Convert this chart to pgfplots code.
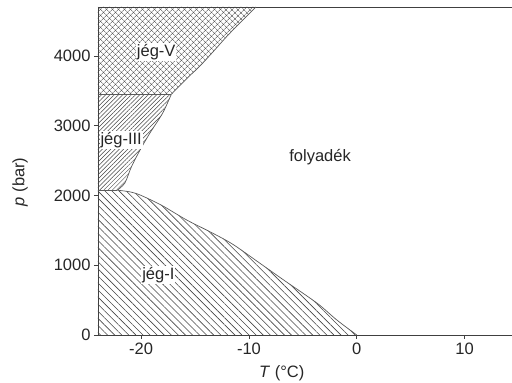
\documentclass[border=0pt]{standalone}
\usepackage{fontspec}
\setmainfont{Liberation Sans}
\usepackage{pgfplots}
\pgfplotsset{compat=1.18}
\usetikzlibrary{patterns.meta}
\newcommand\fs{\fontsize{16.5}{19}\selectfont}
\definecolor{hatch}{RGB}{70,70,70}
\definecolor{bline}{RGB}{90,90,90}
\begin{document}
\begin{tikzpicture}[font=\fs]
\begin{axis}[
  scale only axis, width=414pt, height=328pt,
  xmin=-24, xmax=14.4, ymin=0, ymax=4700,
  axis x line=box, axis y line=left,
  y axis line style={-},
  axis line style={draw=black!75, line width=0.7pt},
  tick pos=left, tick align=outside,
  major tick length=4pt,
  tick style={draw=black!75, line width=0.6pt},
  xtick={-20,-10,0,10}, ytick={0,1000,2000,3000,4000},
  /pgf/number format/1000 sep={},
  /pgf/number format/assume math mode=true,
  tick label style={font=\fs, text=black!85},
  clip=false,
]
% ice I
\addplot[draw=none, smooth, tension=0.5, pattern={Lines[angle=-45,distance=5pt,line width=0.6pt]}, pattern color=hatch]
 coordinates {(-22.2,2075) (-21,2050) (-20,2000) (-18,1850) (-15.8,1650) (-13.5,1470) (-11.5,1300) (-9,1030) (-6.8,790) (-3.7,458) (-1.85,215) (0,0)}
 -- (axis cs:-24,0) -- (axis cs:-24,2075) -- cycle;
% ice III
\addplot[draw=none, smooth, tension=0.5, pattern={Lines[angle=45,distance=3pt,line width=0.5pt]}, pattern color=hatch]
 coordinates {(-22.2,2075) (-21.5,2180) (-20.9,2410) (-20.1,2650) (-19.2,2890) (-18,3180) (-17.2,3450)}
 -- (axis cs:-24,3450) -- (axis cs:-24,2075) -- cycle;
% ice V
\addplot[draw=none, smooth, tension=0.5, pattern={Lines[angle=45,distance=4pt,line width=0.6pt]}, pattern color=hatch]
 coordinates {(-17.2,3450) (-15.6,3700) (-14.6,3845) (-13.2,4080) (-11.8,4320) (-9.35,4700)}
 -- (axis cs:-24,4700) -- (axis cs:-24,3450) -- cycle;
\addplot[draw=none, smooth, tension=0.5, pattern={Lines[angle=-45,distance=4pt,line width=0.6pt]}, pattern color=hatch]
 coordinates {(-17.2,3450) (-15.6,3700) (-14.6,3845) (-13.2,4080) (-11.8,4320) (-9.35,4700)}
 -- (axis cs:-24,4700) -- (axis cs:-24,3450) -- cycle;
% boundaries
\addplot[bline, line width=0.7pt] coordinates {(-24,2075) (-22.2,2075)};
\addplot[bline, line width=0.7pt, smooth, tension=0.5] coordinates {(-22.2,2075) (-21,2050) (-20,2000) (-18,1850) (-15.8,1650) (-13.5,1470) (-11.5,1300) (-9,1030) (-6.8,790) (-3.7,458) (-1.85,215) (0,0)};
\addplot[bline, line width=0.7pt, smooth, tension=0.5] coordinates {(-22.2,2075) (-21.5,2180) (-20.9,2410) (-20.1,2650) (-19.2,2890) (-18,3180) (-17.2,3450)};
\addplot[bline, line width=0.7pt, smooth, tension=0.5] coordinates {(-17.2,3450) (-15.6,3700) (-14.6,3845) (-13.2,4080) (-11.8,4320) (-9.35,4700)};
\addplot[bline, line width=0.7pt] coordinates {(-24,3450) (-17.2,3450)};
% labels
\node[fill=white, inner sep=1pt, text=black!85] at (axis cs:-18.6,4054) {jég-V};
\node[fill=white, inner sep=1pt, text=black!85] at (axis cs:-21.85,2794) {jég-III};
\node[fill=white, inner sep=1pt, text=black!85] at (axis cs:-18.4,860) {jég-I};
\node[text=black!85] at (axis cs:-3.4,2550) {folyadék};
\node[text=black!85] at ([yshift=-38pt]rel axis cs:0.444,0) {\textit{T} (°C)};
\node[rotate=90, text=black!85] at ([xshift=-78pt]rel axis cs:0,0.467) {\textit{p} (bar)};
\end{axis}
\pgfresetboundingbox
\path ([xshift=-98pt,yshift=-48pt]current axis.south west) rectangle ([yshift=7pt]current axis.north east);
\end{tikzpicture}
\end{document}
